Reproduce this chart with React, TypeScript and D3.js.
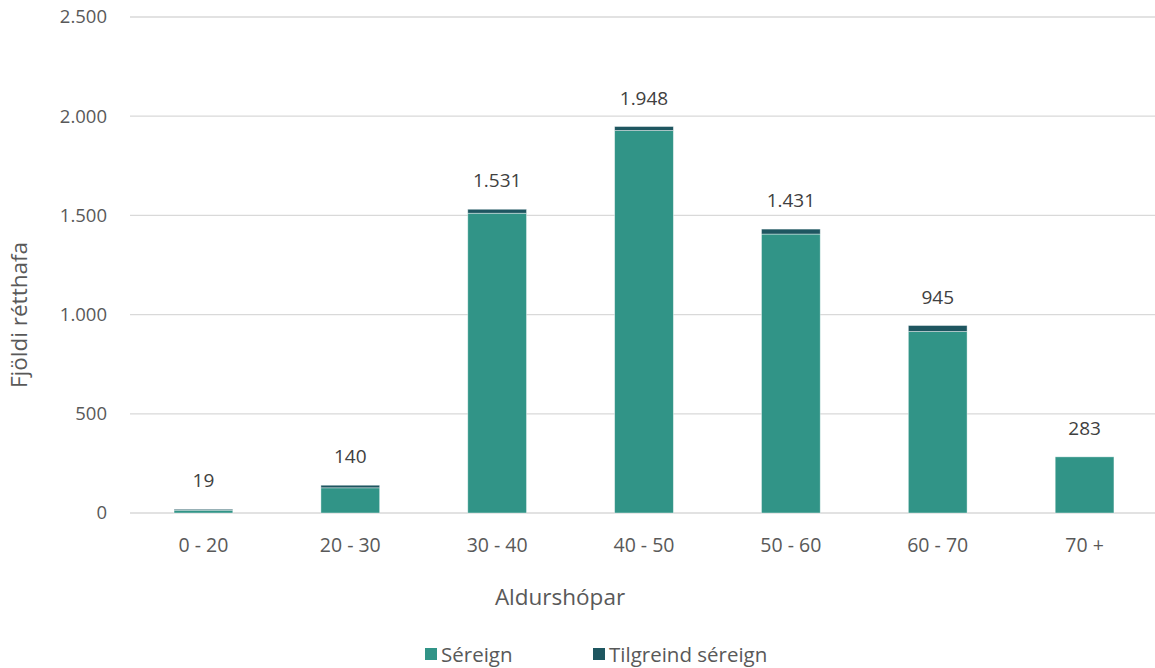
import React from "react";
import * as d3 from "d3";

const categories = ["0 - 20", "20 - 30", "30 - 40", "40 - 50", "50 - 60", "60 - 70", "70 +"];
const sereign = [14, 127, 1511, 1928, 1406, 915, 283];
const tilgreind = [5, 13, 20, 20, 25, 30, 0];
const yTicks = [0, 500, 1000, 1500, 2000, 2500];
const seriesNames = ["Séreign", "Tilgreind séreign"];
const colors = ["#319487", "#1E5660"];

const W = 1155, H = 668;
const FONT = "'Open Sans', sans-serif";
const TXT = "#595959";

const loc = d3.formatLocale({ decimal: ",", thousands: ".", grouping: [3], currency: ["", ""] });
const fmt = loc.format(",d");

export default function App() {
  const x = d3.scaleBand<string>().domain(categories).range([130, 1158]).paddingInner(0.6).paddingOuter(0.3);
  const y = d3.scaleLinear().domain([0, 2500]).range([513, 17]);
  const rows = categories.map((c, i) => ({ cat: c, s: sereign[i], t: tilgreind[i] }));
  const stack = d3.stack<any>().keys(["s", "t"])(rows);
  const bw = x.bandwidth();
  return (
    <svg width={W} height={H} style={{ position: "absolute", left: 0, top: 0, background: "#fff" }} fontFamily={FONT}>
      {yTicks.map((t) => (
        <g key={t}>
          <line x1={130} x2={1155} y1={y(t)} y2={y(t)} stroke="#D9D9D9" strokeWidth={1.3} />
          <text x={107} y={y(t)} dy="0.35em" textAnchor="end" fontSize={18.5} fill={TXT}>{fmt(t)}</text>
        </g>
      ))}
      {stack.map((layer, li) => (
        <g key={li}>
          {layer.map((d, i) => {
            const h = y(d[0]) - y(d[1]);
            if (h <= 0) return null;
            return (
              <rect key={i} x={x(categories[i])!} y={y(d[1])} width={bw} height={h}
                fill={colors[li]} stroke="#ffffff" strokeOpacity={0.5} strokeWidth={0.8} />
            );
          })}
        </g>
      ))}
      {categories.map((c, i) => (
        <text key={c} x={x(c)! + bw / 2} y={y(sereign[i] + tilgreind[i]) - 22} textAnchor="middle" fontSize={19} fill="#404040">
          {fmt(sereign[i] + tilgreind[i])}
        </text>
      ))}
      {categories.map((c) => (
        <text key={c} x={x(c)! + bw / 2} y={552} textAnchor="middle" fontSize={19.5} fill={TXT}>{c}</text>
      ))}
      <text x={560} y={605} textAnchor="middle" fontSize={22.5} fill={TXT}>Aldurshópar</text>
      <text transform="translate(27,315) rotate(-90)" textAnchor="middle" fontSize={22.5} fill={TXT}>Fjöldi rétthafa</text>
      <g>
        <rect x={425} y={648} width={12} height={12} fill={colors[0]} />
        <text x={441} y={662} fontSize={20.5} fill={TXT}>{seriesNames[0]}</text>
        <rect x={593} y={648} width={12} height={12} fill={colors[1]} />
        <text x={609} y={662} fontSize={20.5} fill={TXT}>{seriesNames[1]}</text>
      </g>
    </svg>
  );
}
